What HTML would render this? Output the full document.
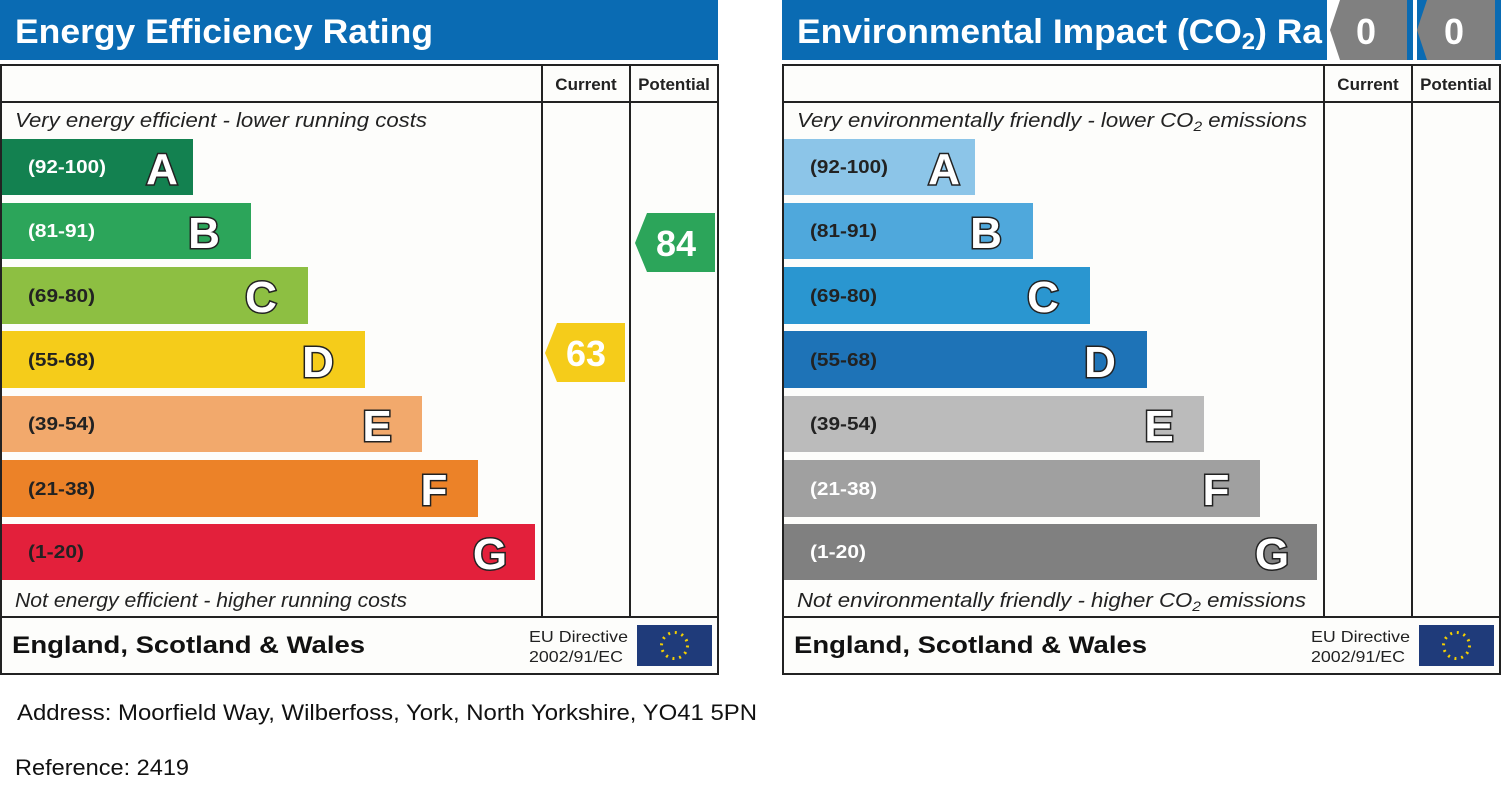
<!DOCTYPE html>
<html><head><meta charset="utf-8"><style>
body{margin:0;background:#fff;width:1501px;height:805px;overflow:hidden;font-family:"Liberation Sans",Arial,sans-serif}
svg text{font-family:"Liberation Sans",Arial,sans-serif}
.lt{font-weight:bold;font-size:44px;fill:#fff;stroke:#222;stroke-width:3px;paint-order:stroke}
.rg{font-weight:bold;font-size:18px}
</style></head><body>
<svg width="1501" height="805" xmlns="http://www.w3.org/2000/svg">
<!-- LEFT -->
<rect x="0" y="0" width="718" height="60" fill="#0a6bb3"/>
<text x="15" y="43" font-size="34" font-weight="bold" fill="#fff" textLength="418" lengthAdjust="spacingAndGlyphs">Energy Efficiency Rating</text>
<rect x="1" y="65" width="717" height="609" fill="#fdfdfb" stroke="#222" stroke-width="2"/>
<line x1="1" y1="102" x2="718" y2="102" stroke="#222" stroke-width="2"/>
<line x1="542" y1="65" x2="542" y2="617" stroke="#222" stroke-width="2"/>
<line x1="630" y1="65" x2="630" y2="617" stroke="#222" stroke-width="2"/>
<line x1="1" y1="617" x2="718" y2="617" stroke="#222" stroke-width="2"/>
<text x="586" y="90" font-size="17" font-weight="bold" text-anchor="middle" fill="#222">Current</text>
<text x="674" y="90" font-size="17" font-weight="bold" text-anchor="middle" fill="#222">Potential</text>
<text x="15" y="127" font-size="20" font-style="italic" fill="#222" textLength="412" lengthAdjust="spacingAndGlyphs">Very energy efficient - lower running costs</text>
<text x="15" y="607" font-size="20" font-style="italic" fill="#222" textLength="392" lengthAdjust="spacingAndGlyphs">Not energy efficient - higher running costs</text>
<rect x="2" y="139" width="191" height="56" fill="#138150"/>
<rect x="2" y="203" width="249" height="56" fill="#2ca55a"/>
<rect x="2" y="267" width="306" height="57" fill="#8dbf42"/>
<rect x="2" y="331" width="363" height="57" fill="#f5cc1a"/>
<rect x="2" y="396" width="420" height="56" fill="#f2a96c"/>
<rect x="2" y="460" width="476" height="57" fill="#ec8228"/>
<rect x="2" y="524" width="533" height="56" fill="#e3203b"/>
<text class="rg" x="28" y="173" fill="#fff" textLength="78" lengthAdjust="spacingAndGlyphs">(92-100)</text>
<text class="rg" x="28" y="237" fill="#fff" textLength="67" lengthAdjust="spacingAndGlyphs">(81-91)</text>
<text class="rg" x="28" y="302" fill="#222" textLength="67" lengthAdjust="spacingAndGlyphs">(69-80)</text>
<text class="rg" x="28" y="366" fill="#222" textLength="67" lengthAdjust="spacingAndGlyphs">(55-68)</text>
<text class="rg" x="28" y="430" fill="#222" textLength="67" lengthAdjust="spacingAndGlyphs">(39-54)</text>
<text class="rg" x="28" y="495" fill="#222" textLength="67" lengthAdjust="spacingAndGlyphs">(21-38)</text>
<text class="rg" x="28" y="558" fill="#222" textLength="56" lengthAdjust="spacingAndGlyphs">(1-20)</text>
<text class="lt" x="162" y="184" text-anchor="middle">A</text>
<text class="lt" x="204" y="248" text-anchor="middle">B</text>
<text class="lt" x="261" y="312" text-anchor="middle">C</text>
<text class="lt" x="318" y="377" text-anchor="middle">D</text>
<text class="lt" x="377" y="441" text-anchor="middle">E</text>
<text class="lt" x="434" y="505" text-anchor="middle">F</text>
<text class="lt" x="490" y="569" text-anchor="middle">G</text>
<polygon points="545,353 557,323 625,323 625,382 557,382" fill="#f5cc1a"/>
<text x="586" y="366" font-size="36" font-weight="bold" fill="#fff" text-anchor="middle">63</text>
<polygon points="635,243 647,213 715,213 715,272 647,272" fill="#2ca55a"/>
<text x="676" y="256" font-size="36" font-weight="bold" fill="#fff" text-anchor="middle">84</text>
<text x="12" y="653" font-size="24" font-weight="bold" fill="#111" textLength="353" lengthAdjust="spacingAndGlyphs">England, Scotland &amp; Wales</text>
<text x="529" y="642" font-size="16" fill="#222" textLength="99" lengthAdjust="spacingAndGlyphs">EU Directive</text>
<text x="529" y="662" font-size="16" fill="#222" textLength="94" lengthAdjust="spacingAndGlyphs">2002/91/EC</text>
<rect x="637" y="625" width="75" height="41" fill="#1f3b7a"/>
<circle cx="674.5" cy="645.5" r="13" fill="none" stroke="#f5d000" stroke-width="3" stroke-dasharray="2 4.8"/>

<!-- RIGHT -->
<rect x="782" y="0" width="719" height="60" fill="#0a6bb3"/>
<text x="797" y="43" font-size="34" font-weight="bold" fill="#fff" textLength="525" lengthAdjust="spacingAndGlyphs">Environmental Impact (CO<tspan font-size="23" dy="6">2</tspan><tspan dy="-6">) Ra</tspan></text>
<rect x="1327" y="0" width="82" height="60" fill="#fff"/>
<polygon points="1330,30 1340,0 1407,0 1407,60 1340,60" fill="#808080"/>
<rect x="1407" y="0" width="94" height="60" fill="#0a6bb3"/>
<rect x="1413" y="0" width="4" height="60" fill="#fff"/>
<polygon points="1417,30 1427,0 1495,0 1495,60 1427,60" fill="#808080"/>
<text x="1366" y="44" font-size="36" font-weight="bold" fill="#fff" text-anchor="middle">0</text>
<text x="1454" y="44" font-size="36" font-weight="bold" fill="#fff" text-anchor="middle">0</text>
<rect x="783" y="65" width="717" height="609" fill="#fdfdfb" stroke="#222" stroke-width="2"/>
<line x1="783" y1="102" x2="1500" y2="102" stroke="#222" stroke-width="2"/>
<line x1="1324" y1="65" x2="1324" y2="617" stroke="#222" stroke-width="2"/>
<line x1="1412" y1="65" x2="1412" y2="617" stroke="#222" stroke-width="2"/>
<line x1="783" y1="617" x2="1500" y2="617" stroke="#222" stroke-width="2"/>
<text x="1368" y="90" font-size="17" font-weight="bold" text-anchor="middle" fill="#222">Current</text>
<text x="1456" y="90" font-size="17" font-weight="bold" text-anchor="middle" fill="#222">Potential</text>
<text x="797" y="127" font-size="20" font-style="italic" fill="#222" textLength="510" lengthAdjust="spacingAndGlyphs">Very environmentally friendly - lower CO<tspan font-size="14" dy="4">2</tspan><tspan dy="-4"> emissions</tspan></text>
<text x="797" y="607" font-size="20" font-style="italic" fill="#222" textLength="509" lengthAdjust="spacingAndGlyphs">Not environmentally friendly - higher CO<tspan font-size="14" dy="4">2</tspan><tspan dy="-4"> emissions</tspan></text>
<rect x="784" y="139" width="191" height="56" fill="#8cc5e8"/>
<rect x="784" y="203" width="249" height="56" fill="#4fa8dc"/>
<rect x="784" y="267" width="306" height="57" fill="#2a96d0"/>
<rect x="784" y="331" width="363" height="57" fill="#1e73b7"/>
<rect x="784" y="396" width="420" height="56" fill="#bbbbbb"/>
<rect x="784" y="460" width="476" height="57" fill="#a0a0a0"/>
<rect x="784" y="524" width="533" height="56" fill="#808080"/>
<text class="rg" x="810" y="173" fill="#222" textLength="78" lengthAdjust="spacingAndGlyphs">(92-100)</text>
<text class="rg" x="810" y="237" fill="#222" textLength="67" lengthAdjust="spacingAndGlyphs">(81-91)</text>
<text class="rg" x="810" y="302" fill="#222" textLength="67" lengthAdjust="spacingAndGlyphs">(69-80)</text>
<text class="rg" x="810" y="366" fill="#222" textLength="67" lengthAdjust="spacingAndGlyphs">(55-68)</text>
<text class="rg" x="810" y="430" fill="#222" textLength="67" lengthAdjust="spacingAndGlyphs">(39-54)</text>
<text class="rg" x="810" y="495" fill="#fff" textLength="67" lengthAdjust="spacingAndGlyphs">(21-38)</text>
<text class="rg" x="810" y="558" fill="#fff" textLength="56" lengthAdjust="spacingAndGlyphs">(1-20)</text>
<text class="lt" x="944" y="184" text-anchor="middle">A</text>
<text class="lt" x="986" y="248" text-anchor="middle">B</text>
<text class="lt" x="1043" y="312" text-anchor="middle">C</text>
<text class="lt" x="1100" y="377" text-anchor="middle">D</text>
<text class="lt" x="1159" y="441" text-anchor="middle">E</text>
<text class="lt" x="1216" y="505" text-anchor="middle">F</text>
<text class="lt" x="1272" y="569" text-anchor="middle">G</text>
<text x="794" y="653" font-size="24" font-weight="bold" fill="#111" textLength="353" lengthAdjust="spacingAndGlyphs">England, Scotland &amp; Wales</text>
<text x="1311" y="642" font-size="16" fill="#222" textLength="99" lengthAdjust="spacingAndGlyphs">EU Directive</text>
<text x="1311" y="662" font-size="16" fill="#222" textLength="94" lengthAdjust="spacingAndGlyphs">2002/91/EC</text>
<rect x="1419" y="625" width="75" height="41" fill="#1f3b7a"/>
<circle cx="1456.5" cy="645.5" r="13" fill="none" stroke="#f5d000" stroke-width="3" stroke-dasharray="2 4.8"/>

<text x="17" y="720" font-size="22" fill="#111" textLength="740" lengthAdjust="spacingAndGlyphs">Address: Moorfield Way, Wilberfoss, York, North Yorkshire, YO41 5PN</text>
<text x="15" y="775" font-size="22" fill="#111" textLength="174" lengthAdjust="spacingAndGlyphs">Reference: 2419</text>
</svg>
</body></html>
